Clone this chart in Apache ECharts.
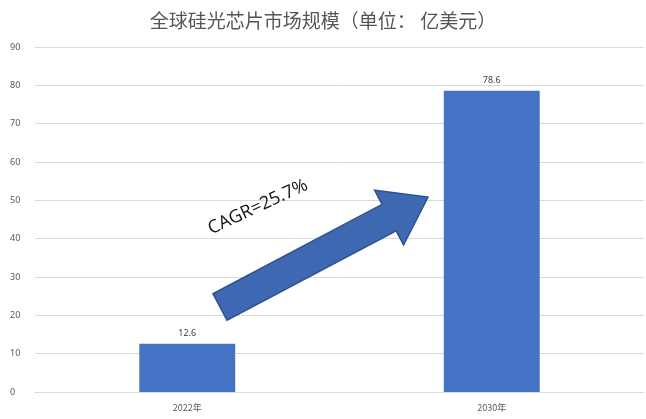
<!DOCTYPE html>
<html><head><meta charset="utf-8">
<script src="https://cdn.jsdelivr.net/npm/echarts@6/dist/echarts.min.js"></script>
<style>html,body{margin:0;padding:0;background:#fff}#c{width:646px;height:419px}</style>
</head><body><div id="c"></div>
<script>
const categories = ['2022年', '2030年'];
const values = [12.6, 78.6];
const yTicks = [0, 10, 20, 30, 40, 50, 60, 70, 80, 90];
const titleText = '全球硅光芯片市场规模（单位： 亿美元）';
const cagrText = 'CAGR=25.7%';

const chart = echarts.init(document.getElementById('c'));

// arrow annotation geometry (decorative)
const tail = [220, 307], tip = [428, 197];
const dx = tip[0] - tail[0], dy = tip[1] - tail[1];
const L = Math.hypot(dx, dy);
const d = [dx / L, dy / L], n = [-d[1], d[0]];
const h = 44, sw = 15, hw = 31;
const local = [[0, -sw], [L - h, -sw], [L - h, -hw], [L, 0], [L - h, hw], [L - h, sw], [0, sw]];
const arrowPts = local.map(p => [tail[0] + p[0] * d[0] + p[1] * n[0], tail[1] + p[0] * d[1] + p[1] * n[1]]);

chart.setOption({
  animation: false,
  backgroundColor: '#fff',
  title: {
    text: titleText, left: 'center', top: 6,
    textStyle: { fontFamily: 'Noto Sans CJK SC', fontSize: 19, fontWeight: 'normal', color: '#555555' }
  },
  grid: { left: 35, right: 2, top: 47, bottom: 27 },
  xAxis: {
    type: 'category', data: categories,
    axisLine: { show: true, lineStyle: { color: '#d9d9d9' } },
    axisTick: { show: false },
    axisLabel: { color: '#595959', fontSize: 9, margin: 11, fontFamily: 'Noto Sans CJK SC' }
  },
  yAxis: {
    type: 'value', min: yTicks[0], max: yTicks[yTicks.length - 1], interval: 10,
    axisLine: { show: false }, axisTick: { show: false },
    axisLabel: { color: '#595959', fontSize: 9, margin: 25, align: 'left', fontFamily: 'Noto Sans' },
    splitLine: { lineStyle: { color: '#d9d9d9', width: 1 } }
  },
  series: [{
    type: 'bar', data: values, barWidth: '31.5%',
    itemStyle: { color: '#4472c4' },
    label: { show: true, position: 'top', distance: 6, color: '#404040', fontSize: 9, fontFamily: 'Noto Sans' }
  }],
  graphic: [
    { type: 'polygon', z: 100, shape: { points: arrowPts },
      style: { fill: '#3f68b3', stroke: '#2f528f', lineWidth: 1.5 } },
    { type: 'text', z: 100, x: 258, y: 207, rotation: 25 * Math.PI / 180,
      style: { text: cagrText, fill: '#111111', fontSize: 18, fontFamily: 'Open Sans', align: 'center', verticalAlign: 'middle' } }
  ]
});
</script></body></html>
